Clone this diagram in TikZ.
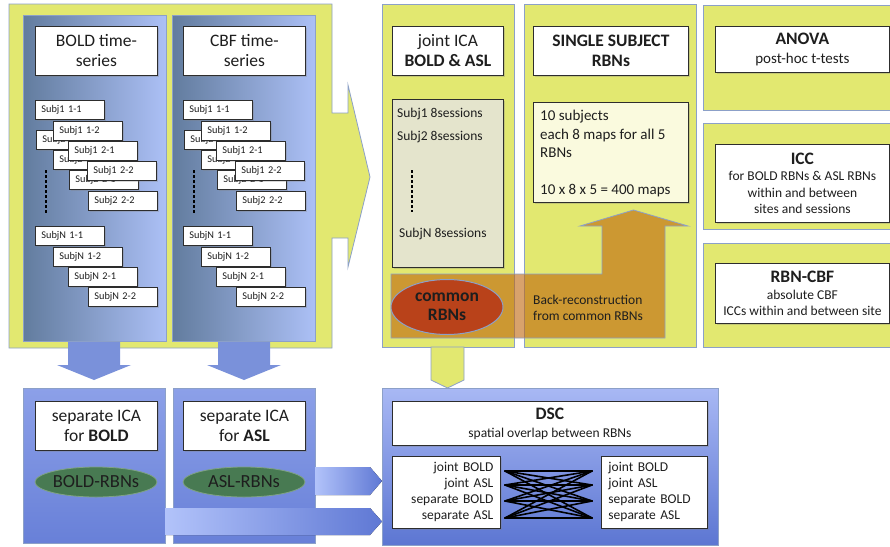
\documentclass[tikz,border=0pt]{standalone}
\usepackage{fontspec}
\setmainfont{Carlito}
\usetikzlibrary{shadows,shapes.geometric}
\definecolor{ylw}{RGB}{226,232,112}
\definecolor{pbord}{RGB}{140,160,200}
\definecolor{bluedark}{RGB}{98,124,158}
\definecolor{bluelight}{RGB}{172,192,246}
\definecolor{septop}{RGB}{140,160,232}
\definecolor{sepbot}{RGB}{104,128,216}
\definecolor{dsctop}{RGB}{168,184,244}
\definecolor{dscbot}{RGB}{92,118,210}
\definecolor{arrlight}{RGB}{178,195,250}
\definecolor{arrdark}{RGB}{95,120,212}
\definecolor{downblue}{RGB}{122,145,218}
\definecolor{orng}{RGB}{190,100,10}
\definecolor{commonred}{RGB}{185,66,26}
\definecolor{grn}{RGB}{72,122,82}
\definecolor{greybox}{RGB}{228,228,204}
\definecolor{lightbox}{RGB}{250,250,222}
\definecolor{boxline}{RGB}{45,45,45}
\definecolor{txt}{RGB}{30,30,30}
\newcommand\fHead{\fontsize{17.5}{20}\selectfont}
\newcommand\fSubj{\fontsize{10.3}{12}\selectfont}
\newcommand\fMid{\fontsize{13.5}{16.5}\selectfont}
\newcommand\fBig{\fontsize{15}{18.5}\selectfont}
\begin{document}
\begin{tikzpicture}[x=1pt,y=-1pt,
  every node/.style={text=txt},
  ypanel/.style={fill=ylw, draw=pbord, line width=0.8pt},
  ypnode/.style={ypanel, anchor=north west, inner sep=0pt},
  bpanel/.style={draw=pbord, line width=0.6pt, left color=bluedark, right color=bluelight,
    anchor=north west, inner sep=0pt,
    drop shadow={shadow xshift=1pt,shadow yshift=-1pt,opacity=0.25}},
  vpanel/.style={draw=pbord, line width=0.6pt, anchor=north west, inner sep=0pt,
    drop shadow={shadow xshift=1pt,shadow yshift=-1pt,opacity=0.25}},
  wbox/.style={draw=boxline, fill=white, line width=0.8pt, anchor=north west,
    inner sep=0pt, align=center,
    drop shadow={shadow xshift=1.2pt,shadow yshift=-1.2pt,opacity=0.3}},
  subjbox/.style={wbox, minimum height=19pt, text width=57pt, inner xsep=6pt,
    align=left, font=\fSubj},
  dotline/.style={line width=1.6pt, dash pattern=on 3pt off 2pt, black},
  gell/.style={ellipse, fill=grn, draw=grn!70!white, line width=0.8pt, inner sep=0pt,
    minimum width=122pt, minimum height=30pt, font=\fontsize{18.5}{20}\selectfont},
  crossline/.style={line width=1.6pt, black, line cap=round}
]
\useasboundingbox (0,0) rectangle (890,546);
\fill[white] (0,0) rectangle (890,546);
\clip (0,0) rectangle (890,546);

% ---------- top-left yellow panel with arrow ----------
\draw[ypanel] (9,4) -- (332,4) -- (332,113) -- (348,113) -- (348,85) -- (370,177)
  -- (348,267) -- (348,238) -- (332,238) -- (332,348) -- (9,348) -- cycle;

% blue down arrows
\fill[downblue] (68,330) -- (120,330) -- (120,365) -- (131,365) -- (94,380) -- (57,365) -- (68,365) -- cycle;
\fill[downblue] (218,330) -- (270,330) -- (270,365) -- (281,365) -- (244,380) -- (207,365) -- (218,365) -- cycle;

% blue panels
\node[bpanel, minimum width=143pt, minimum height=326pt] (panA) at (23,15) {};
\node[bpanel, minimum width=143pt, minimum height=326pt] (panB) at (172,15) {};

\node[wbox, minimum width=122pt, minimum height=49pt, font=\fHead] (boldhdr) at (35,26) {BOLD time-\\series};
\node[wbox, minimum width=122pt, minimum height=49pt, font=\fHead] (cbfhdr) at (183,26) {CBF time-\\series};

\foreach \dx/\p in {0/a,148/b} {
  \node[subjbox] (\p s21) at (36+\dx,130) {Subj2 1-1};
  \node[subjbox] (\p s22) at (53+\dx,150) {Subj2 1-2};
  \node[subjbox] (\p s23) at (69+\dx,170) {Subj2 2-1};
  \node[subjbox] (\p s24) at (88+\dx,191) {Subj2 2-2};
  \node[subjbox] (\p s11) at (35+\dx,100) {Subj1 1-1};
  \node[subjbox] (\p s12) at (53+\dx,121) {Subj1 1-2};
  \node[subjbox] (\p s13) at (68+\dx,141) {Subj1 2-1};
  \node[subjbox] (\p s14) at (87+\dx,161) {Subj1 2-2};
  \node[subjbox] (\p sN1) at (35+\dx,226) {SubjN 1-1};
  \node[subjbox] (\p sN2) at (53+\dx,247) {SubjN 1-2};
  \node[subjbox] (\p sN3) at (68+\dx,267) {SubjN 2-1};
  \node[subjbox] (\p sN4) at (88+\dx,287) {SubjN 2-2};
  \draw[dotline] (46+\dx,170) -- (46+\dx,213);
}

% ---------- joint ICA and single subject panels ----------
\node[ypnode, minimum width=132pt, minimum height=343pt] (jica) at (382,4) {};
\node[ypnode, minimum width=172pt, minimum height=343pt] (single) at (524,4) {};

\node[wbox, minimum width=111pt, minimum height=49pt, font=\fHead] (jicahdr) at (392,26) {joint ICA\\\textbf{BOLD \& ASL}};
\node[wbox, minimum width=155pt, minimum height=49pt, font=\fHead\bfseries] (singlehdr) at (533,26) {SINGLE SUBJECT\\RBNs};

\node[wbox, fill=greybox, minimum width=111pt, minimum height=168pt] (sessbox) at (392,99) {};
\node[anchor=west, font=\fMid, inner sep=0pt] (sess1) at (397,114) {Subj1 8sessions};
\node[anchor=west, font=\fMid, inner sep=0pt] (sess2) at (397,137) {Subj2 8sessions};
\node[anchor=west, font=\fMid, inner sep=0pt] (sessN) at (399,234) {SubjN 8sessions};
\draw[dotline] (412,170) -- (412,212);

\node[wbox, fill=lightbox, minimum width=155pt, minimum height=100pt] (mapsbox) at (533,102) {};
\node[anchor=north west, align=left, font=\fBig, inner sep=0pt] (mapstext) at (540,110)
  {10 subjects\\each 8 maps for all 5\\RBNs\\[18.5pt]10 x 8 x 5 = 400 maps};

% orange back-reconstruction arrow
\draw[fill=orng, fill opacity=0.6, draw=pbord, line width=0.8pt]
  (391,274) -- (602,274) -- (602,226) -- (580,226) -- (633.5,210) -- (688,226)
  -- (665,226) -- (665,338) -- (391,338) -- cycle;
\node[ellipse, fill=commonred, draw=pbord, line width=1pt, inner sep=0pt,
  minimum width=112pt, minimum height=55pt, align=center,
  font=\fontsize{17.5}{19}\selectfont\bfseries] (common) at (447,307) {common\\RBNs};
\node[anchor=west, align=left, font=\fMid, inner sep=0pt] (backrec) at (533,308)
  {Back-reconstruction\\from common RBNs};

% ---------- right column ----------
\node[ypnode, minimum width=195pt, minimum height=105pt] (anovap) at (703,5) {};
\node[ypnode, minimum width=195pt, minimum height=106pt] (iccp) at (703,123) {};
\node[ypnode, minimum width=195pt, minimum height=104pt] (rbncbfp) at (703,243) {};

\node[wbox, minimum width=174pt, minimum height=46pt, font=\fontsize{15}{19.5}\selectfont] (anova) at (715,26)
  {{\fHead\bfseries ANOVA}\\post-hoc t-tests};
\node[wbox, minimum width=174pt, minimum height=78pt, font=\fMid] (icc) at (715,144)
  {{\fHead\bfseries ICC}\\for BOLD RBNs \& ASL RBNs\\within and between\\sites and sessions};
\node[wbox, minimum width=174pt, minimum height=60pt, font=\fMid] (rbncbf) at (715,263)
  {{\fHead\bfseries RBN-CBF}\\absolute CBF\\ICCs within and between site};

% yellow down chevron
\draw[ypanel] (431,347) -- (464,347) -- (464,380) -- (447.5,388) -- (431,380) -- cycle;

% ---------- separate ICA panels ----------
\node[vpanel, top color=septop, bottom color=sepbot, minimum width=142pt, minimum height=155pt] (sepA) at (23,388) {};
\node[vpanel, top color=septop, bottom color=sepbot, minimum width=142pt, minimum height=155pt] (sepB) at (173,388) {};
\node[wbox, minimum width=122pt, minimum height=49pt, font=\fHead] (sepAhdr) at (35,401) {separate ICA\\for \textbf{BOLD}};
\node[wbox, minimum width=122pt, minimum height=49pt, font=\fHead] (sepBhdr) at (183,401) {separate ICA\\for \textbf{ASL}};
\node[gell] (boldrbn) at (96,482) {\makebox[0pt]{BOLD-RBNs}};
\node[gell] (aslrbn) at (244,482) {\makebox[0pt]{ASL-RBNs}};

% blue arrows to DSC
\fill[left color=arrlight, right color=arrdark] (315,467) -- (370,467) -- (382,481) -- (370,495) -- (315,495) -- cycle;
\fill[left color=arrlight, right color=arrdark] (165,508) -- (370,508) -- (382,521.5) -- (370,535) -- (165,535) -- cycle;

% ---------- DSC ----------
\node[vpanel, top color=dsctop, bottom color=dscbot, minimum width=336pt, minimum height=157pt] (dsc) at (382,388) {};
\node[wbox, minimum width=315pt, minimum height=44pt, font=\fontsize{13.5}{18}\selectfont] (dschdr) at (392,401)
  {{\fHead\bfseries DSC}\\spatial overlap between RBNs};
\node[wbox, minimum height=72pt, text width=94pt, inner xsep=7pt, align=right,
  font=\fontsize{13.5}{16}\selectfont] (listL) at (392,456)
  {joint BOLD\\joint ASL\\separate BOLD\\separate ASL};
\node[wbox, minimum height=72pt, text width=92pt, inner xsep=7pt, align=left,
  font=\fontsize{13.5}{16}\selectfont] (listR) at (601,456)
  {joint BOLD\\joint ASL\\separate BOLD\\separate ASL};

\coordinate (L1) at (505,471); \coordinate (L2) at (505,485);
\coordinate (L3) at (505,501); \coordinate (L4) at (505,518);
\coordinate (R1) at (592,471); \coordinate (R2) at (592,485);
\coordinate (R3) at (592,501); \coordinate (R4) at (592,518);
\foreach \i in {1,...,4} {
  \foreach \j in {1,...,4} {
    \draw[crossline] (L\i) -- (R\j);
  }
}
\end{tikzpicture}
\end{document}
